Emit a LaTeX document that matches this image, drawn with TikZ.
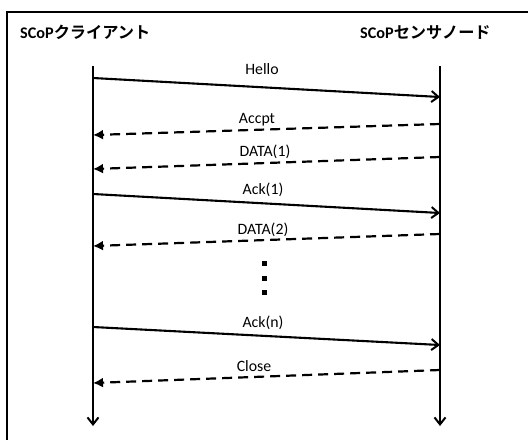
\documentclass[tikz,border=0pt]{standalone}
\usepackage{fontspec}
\setmainfont{Carlito}
\newfontfamily\jp{Noto Sans CJK JP}[BoldFont={Noto Sans CJK JP Bold}]
\usetikzlibrary{arrows.meta}
\begin{document}
\begin{tikzpicture}[x=1pt,y=-1pt,
  msgsolid/.style={line width=2.1pt,-{Straight Barb[length=7pt,width=11pt,line width=2pt]}},
  msgdash/.style={line width=2.2pt,dash pattern=on 10pt off 6pt,-{Latex[length=10pt,width=10pt]}},
  life/.style={line width=2.1pt,-{Straight Barb[length=7pt,width=11pt,line width=2pt]}},
  lbl/.style={font=\fontsize{15.8}{18}\selectfont,anchor=base,inner sep=0pt},
  ttl/.style={font=\fontsize{16.2}{18}\selectfont\bfseries,anchor=base west,inner sep=0pt},
  dot/.style={fill=black,minimum size=5pt,inner sep=0pt}]
\useasboundingbox (0,0) rectangle (528,440);
% frame (left and top edges)
\draw[line width=2.2pt] (7,440) -- (7,12) -- (528,12);
% titles
\node[ttl] (tclient) at (20,38) {SCoP{\jp\bfseries クライアント}};
\node[ttl] (tsensor) at (360,38) {SCoP{\jp\bfseries センサノード}};
% lifelines
\coordinate (Lt) at (93,66); \coordinate (Lb) at (93,426);
\coordinate (Rt) at (440,66); \coordinate (Rb) at (440,426);
\draw[life] (Lt) -- (Lb);
\draw[life] (Rt) -- (Rb);
% endpoints
\coordinate (h1) at (93,78);   \coordinate (h2) at (440,97);
\coordinate (a1) at (440,124); \coordinate (a2) at (93,135);
\coordinate (d1) at (440,157); \coordinate (d2) at (93,169);
\coordinate (k1) at (93,194);  \coordinate (k2) at (440,213);
\coordinate (e1) at (440,234); \coordinate (e2) at (93,246);
\coordinate (n1) at (93,327);  \coordinate (n2) at (440,345);
\coordinate (c1) at (440,370); \coordinate (c2) at (93,383);
% messages
\draw[msgsolid] (h1) -- (h2);
\draw[msgdash] (a1) -- (a2);
\draw[msgdash] (d1) -- (d2);
\draw[msgsolid] (k1) -- (k2);
\draw[msgdash] (e1) -- (e2);
\draw[msgsolid] (n1) -- (n2);
\draw[msgdash] (c1) -- (c2);
% labels
\node[lbl] (lh) at (262,74) {Hello};
\node[lbl] (la) at (257,123) {Accpt};
\node[lbl] (ld) at (265,156) {DATA(1)};
\node[lbl] (lk) at (263,194) {Ack(1)};
\node[lbl] (le) at (263,234) {DATA(2)};
\node[lbl] (ln) at (263,327) {Ack(n)};
\node[lbl] (lc) at (254,371) {Close};
% ellipsis dots
\node[dot] (dotA) at (264,263) {};
\node[dot] (dotB) at (264,278) {};
\node[dot] (dotC) at (264,292) {};
\end{tikzpicture}
\end{document}
